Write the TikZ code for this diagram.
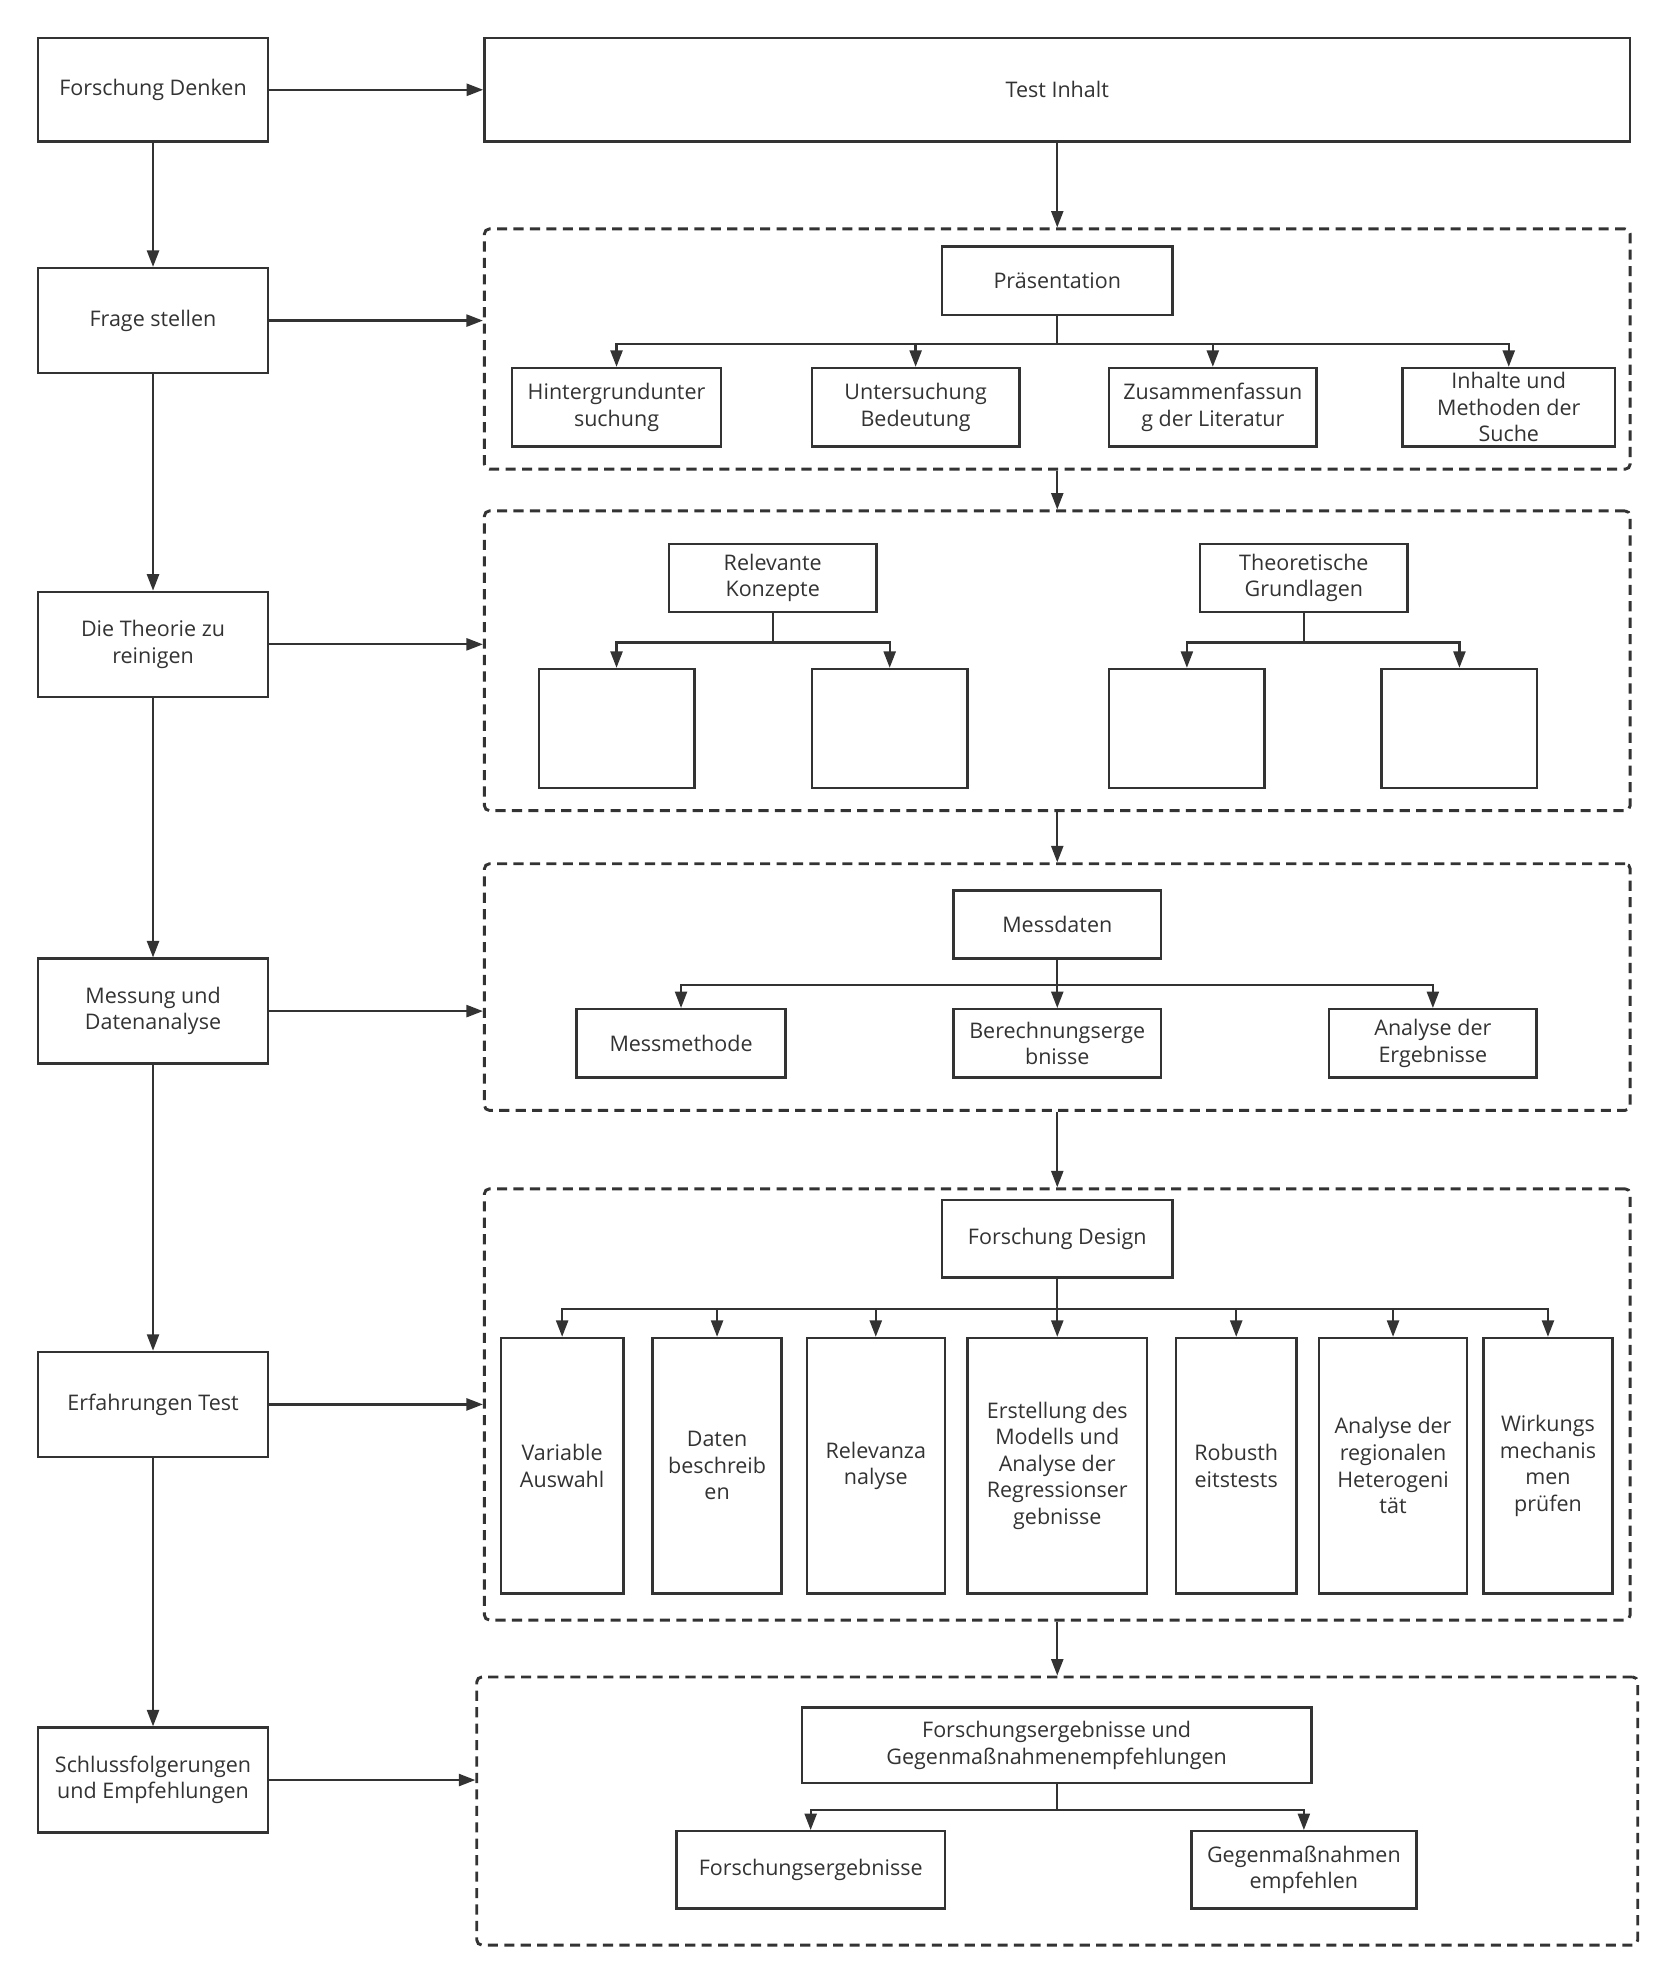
\documentclass[tikz,border=0pt]{standalone}
\usepackage{fontspec}
\setmainfont{Open Sans}
\usetikzlibrary{arrows.meta}
\definecolor{dark}{HTML}{333333}
\begin{document}
\begin{tikzpicture}[x=1pt,y=-1pt,
  box/.style={draw=dark, line width=1.9pt, fill=white, align=center, inner sep=0pt, font=\fontsize{17}{21}\selectfont, text=dark},
  grp/.style={draw=dark, line width=2.3pt, dash pattern=on 8pt off 5pt, rounded corners=4pt, inner sep=0pt},
  arr/.style={draw=dark, line width=1.8pt, -{Triangle[length=13pt,width=9.5pt]}},
  ln/.style={draw=dark, line width=1.8pt}]
\useasboundingbox[fill=white] (0,0) rectangle (1324,1568);

% group frames
\node[grp, minimum width=906pt, minimum height=190pt] (G1) at (836,276) {};
\node[grp, minimum width=906pt, minimum height=237pt] (G2) at (836,522.5) {};
\node[grp, minimum width=906pt, minimum height=195pt] (G3) at (836,780.5) {};
\node[grp, minimum width=906pt, minimum height=341pt] (G4) at (836,1110.5) {};
\node[grp, minimum width=918pt, minimum height=212pt] (G5) at (836,1432) {};

% left column
\node[box, minimum width=182pt, minimum height=82pt] (L1) at (121,71) {Forschung Denken};
\node[box, minimum width=182pt, minimum height=83pt] (L2) at (121,253.5) {Frage stellen};
\node[box, minimum width=182pt, minimum height=83pt] (L3) at (121,509.5) {Die Theorie zu\\reinigen};
\node[box, minimum width=182pt, minimum height=83pt] (L4) at (121,799.5) {Messung und\\Datenanalyse};
\node[box, minimum width=182pt, minimum height=83pt] (L5) at (121,1110.5) {Erfahrungen Test};
\node[box, minimum width=182pt, minimum height=83pt] (L6) at (121,1407.5) {Schlussfolgerungen\\und Empfehlungen};

\draw[arr] (L1) -- (L2);
\draw[arr] (L2) -- (L3);
\draw[arr] (L3) -- (L4);
\draw[arr] (L4) -- (L5);
\draw[arr] (L5) -- (L6);

% top box
\node[box, minimum width=906pt, minimum height=82pt] (TI) at (836,71) {Test Inhalt};
\draw[arr] (L1.east) -- (TI.west);
\draw[arr] (L2.east) -- (L2.east -| G1.west);
\draw[arr] (L3.east) -- (L3.east -| G2.west);
\draw[arr] (L4.east) -- (L4.east -| G3.west);
\draw[arr] (L5.east) -- (L5.east -| G4.west);
\draw[arr] (L6.east) -- (L6.east -| G5.west);

\draw[arr] (TI.south) -- (G1.north);
\draw[arr] (G1.south) -- (G2.north);
\draw[arr] (G2.south) -- (G3.north);
\draw[arr] (G3.south) -- (G4.north);
\draw[arr] (G4.south) -- (G5.north);

% group 1
\node[box, minimum width=182pt, minimum height=54pt] (P) at (836,222) {Präsentation};
\node[box, minimum width=165pt, minimum height=62pt] (H) at (487.5,322) {Hintergrundunter\\suchung};
\node[box, minimum width=164pt, minimum height=62pt] (U) at (724,322) {Untersuchung\\Bedeutung};
\node[box, minimum width=164pt, minimum height=62pt] (Z) at (959,322) {Zusammenfassun\\g der Literatur};
\node[box, minimum width=168pt, minimum height=62pt] (I) at (1193,322) {Inhalte und\\Methoden der\\Suche};
\foreach \c in {H,U,Z,I} \draw[arr] (P.south) -- ++(0,22) -| (\c.north);

% group 2
\node[box, minimum width=164pt, minimum height=54pt] (RK) at (611,457) {Relevante\\Konzepte};
\node[box, minimum width=123pt, minimum height=94pt] (RK1) at (487.5,576) {};
\node[box, minimum width=123pt, minimum height=94pt] (RK2) at (703.5,576) {};
\node[box, minimum width=164pt, minimum height=54pt] (TG) at (1031,457) {Theoretische\\Grundlagen};
\node[box, minimum width=123pt, minimum height=94pt] (TG1) at (938.5,576) {};
\node[box, minimum width=123pt, minimum height=94pt] (TG2) at (1154,576) {};
\foreach \c in {RK1,RK2} \draw[arr] (RK.south) -- ++(0,23) -| (\c.north);
\foreach \c in {TG1,TG2} \draw[arr] (TG.south) -- ++(0,23) -| (\c.north);

% group 3
\node[box, minimum width=164pt, minimum height=54pt] (MD) at (836,731) {Messdaten};
\node[box, minimum width=165pt, minimum height=54pt] (MM) at (538.5,825) {Messmethode};
\node[box, minimum width=164pt, minimum height=54pt] (BE) at (836,825) {Berechnungserge\\bnisse};
\node[box, minimum width=164pt, minimum height=54pt] (AE) at (1133,825) {Analyse der\\Ergebnisse};
\foreach \c in {MM,BE,AE} \draw[arr] (MD.south) -- ++(0,20) -| (\c.north);

% group 4
\node[box, minimum width=182pt, minimum height=61pt] (FD) at (836,979.5) {Forschung Design};
\node[box, minimum width=97pt, minimum height=202pt] (VA) at (444.5,1159) {Variable\\Auswahl};
\node[box, minimum width=102pt, minimum height=202pt] (DB) at (567,1159) {Daten\\beschreib\\en};
\node[box, minimum width=109pt, minimum height=202pt] (RA) at (692.5,1159) {Relevanza\\nalyse};
\node[box, minimum width=142pt, minimum height=202pt] (ES) at (836,1159) {Erstellung des\\Modells und\\Analyse der\\Regressionser\\gebnisse};
\node[box, minimum width=95pt, minimum height=202pt] (RT) at (977.5,1159) {Robusth\\eitstests};
\node[box, minimum width=117pt, minimum height=202pt] (AR) at (1101.5,1159) {Analyse der\\regionalen\\Heterogeni\\tät};
\node[box, minimum width=102pt, minimum height=202pt] (WM) at (1224,1159) {Wirkungs\\mechanis\\men\\prüfen};
\foreach \c in {VA,DB,RA,ES,RT,AR,WM} \draw[arr] (FD.south) -- ++(0,24) -| (\c.north);

% group 5
\node[box, minimum width=403pt, minimum height=60pt] (FG) at (835.5,1380) {Forschungsergebnisse und\\Gegenmaßnahmenempfehlungen};
\node[box, minimum width=212pt, minimum height=61pt] (FE) at (641,1478.5) {Forschungsergebnisse};
\node[box, minimum width=178pt, minimum height=61pt] (GE) at (1031,1478.5) {Gegenmaßnahmen\\empfehlen};
\foreach \c in {FE,GE} \draw[arr] (FG.south) -- ++(0,20) -| (\c.north);
\end{tikzpicture}
\end{document}
